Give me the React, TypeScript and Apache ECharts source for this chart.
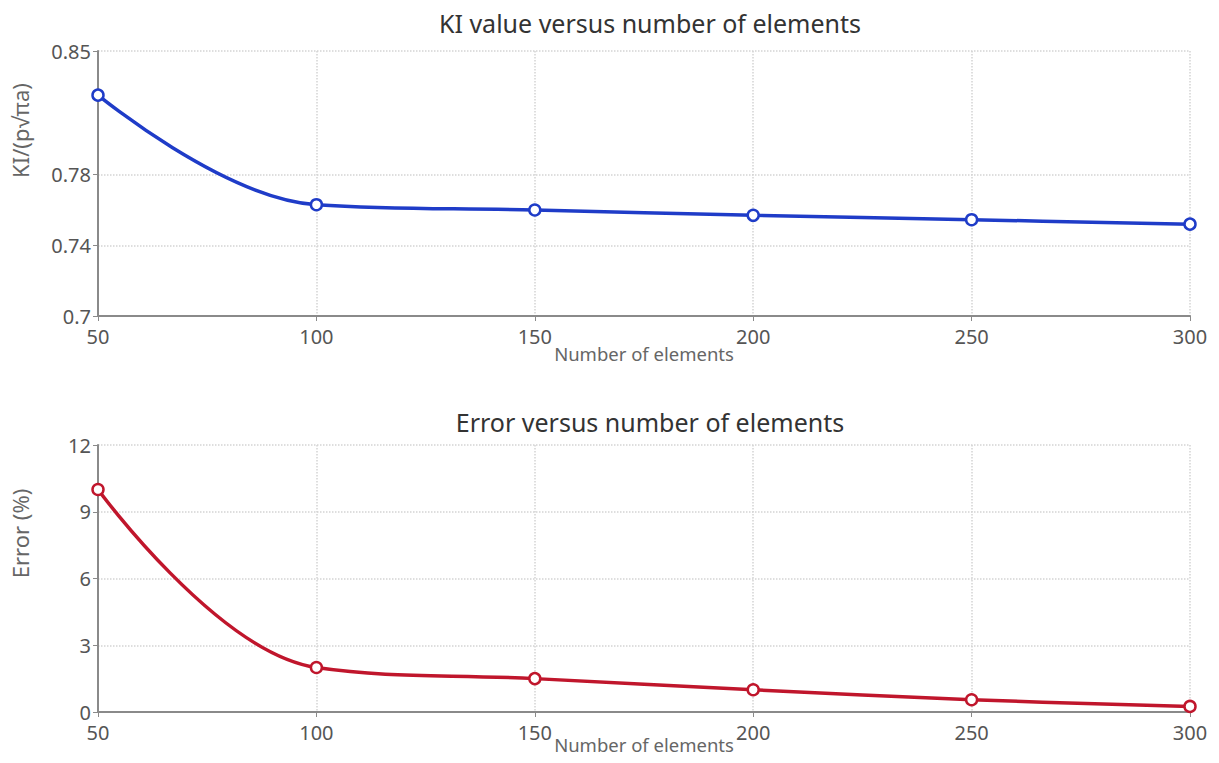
import React, { useEffect, useRef } from "react";
import * as echarts from "echarts";

// Mesh sizes and results
const elementCounts = [50, 100, 150, 200, 250, 300];
const kiValues = [0.825, 0.763, 0.76, 0.757, 0.7545, 0.752];
const errorValues = [10, 2, 1.5, 1, 0.55, 0.25];

const kiTicks = [0.7, 0.74, 0.78, 0.85];
const errorTicks = [0, 3, 6, 9, 12];

const FONT = "'Noto Sans', 'Open Sans', sans-serif";
const GRID_COLOR = "#d4d4d4";
const AXIS_COLOR = "#8a8a8a";
const LABEL_COLOR = "#555";

function xAxisFor(gridIndex: number, nameGap: number) {
  return {
    type: "value",
    gridIndex,
    min: 50,
    max: 300,
    interval: 50,
    name: "Number of elements",
    nameLocation: "middle",
    nameGap,
    nameMoveOverlap: false,
    nameTextStyle: { fontFamily: FONT, fontSize: 18.5, color: "#666", lineHeight: 20 },
    axisLine: { lineStyle: { color: AXIS_COLOR, width: 2 } },
    axisTick: { show: true, length: 5, lineStyle: { color: AXIS_COLOR } },
    axisLabel: { fontFamily: FONT, fontSize: 20, color: LABEL_COLOR, margin: 10 },
    splitLine: { show: true, lineStyle: { color: GRID_COLOR, type: "dotted", width: 1.5 } },
  };
}

export default function App() {
  const ref = useRef<HTMLDivElement>(null);

  useEffect(() => {
    if (!ref.current) return;
    const chart = echarts.init(ref.current, undefined, { renderer: "svg" });

    const pairs = (ys: number[]) => elementCounts.map((x, i) => [x, ys[i]]);

    chart.setOption({
      animation: false,
      backgroundColor: "#fff",
      title: [
        {
          text: "KI value versus number of elements",
          left: 645,
          top: 5,
          textAlign: "center",
          textStyle: { fontFamily: FONT, fontSize: 25, fontWeight: "normal", color: "#333" },
        },
        {
          text: "Error versus number of elements",
          left: 645,
          top: 404,
          textAlign: "center",
          textStyle: { fontFamily: FONT, fontSize: 25, fontWeight: "normal", color: "#333" },
        },
      ],
      grid: [
        { left: 98, right: 29, top: 51, height: 265, outerBoundsMode: "none" },
        { left: 98, right: 29, top: 445, height: 267, outerBoundsMode: "none" },
      ],
      xAxis: [xAxisFor(0, 27), xAxisFor(1, 22)],
      yAxis: [
        {
          type: "value",
          gridIndex: 0,
          min: 0.7,
          max: 0.85,
          name: "KI/(p√πa)",
          nameLocation: "middle",
          nameGap: 67,
          nameTextStyle: { fontFamily: FONT, fontSize: 22, color: "#666", padding: [0, 0, 0, 106] },
          axisLine: { show: true, lineStyle: { color: AXIS_COLOR, width: 2 } },
          axisTick: { show: true, length: 5, customValues: kiTicks, lineStyle: { color: AXIS_COLOR } },
          axisLabel: {
            fontFamily: FONT,
            fontSize: 20,
            color: LABEL_COLOR,
            margin: 7,
            customValues: kiTicks,
          },
          splitLine: { show: true, lineStyle: { color: GRID_COLOR, type: "dotted", width: 1.5 } },
        },
        {
          type: "value",
          gridIndex: 1,
          min: 0,
          max: 12,
          interval: 3,
          name: "Error (%)",
          nameLocation: "middle",
          nameGap: 67,
          nameTextStyle: { fontFamily: FONT, fontSize: 22, color: "#666", padding: [0, 0, 0, 90] },
          axisLine: { show: true, lineStyle: { color: AXIS_COLOR, width: 2 } },
          axisTick: { show: true, length: 5, lineStyle: { color: AXIS_COLOR } },
          axisLabel: {
            fontFamily: FONT,
            fontSize: 20,
            color: LABEL_COLOR,
            margin: 7,
            customValues: errorTicks,
          },
          splitLine: { show: true, lineStyle: { color: GRID_COLOR, type: "dotted", width: 1.5 } },
        },
      ],
      series: [
        {
          type: "line",
          xAxisIndex: 0,
          yAxisIndex: 0,
          data: pairs(kiValues),
          smooth: 0.4,
          symbol: "circle",
          symbolSize: 11,
          lineStyle: { color: "#1f3cc8", width: 3.5 },
          itemStyle: { color: "#fff", borderColor: "#1f3cc8", borderWidth: 2.5 },
        },
        {
          type: "line",
          xAxisIndex: 1,
          yAxisIndex: 1,
          data: pairs(errorValues),
          smooth: 0.4,
          symbol: "circle",
          symbolSize: 11,
          lineStyle: { color: "#c0162c", width: 3.5 },
          itemStyle: { color: "#fff", borderColor: "#c0162c", borderWidth: 2.5 },
        },
      ],
    });

    return () => chart.dispose();
  }, []);

  return (
    <div
      ref={ref}
      style={{ position: "absolute", left: 0, top: 0, width: 1219, height: 763 }}
    />
  );
}
